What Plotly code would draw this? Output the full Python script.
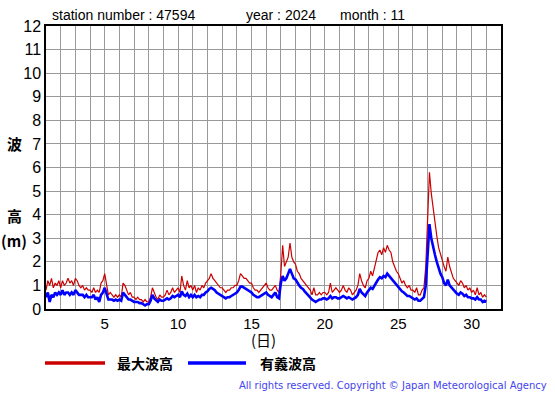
import plotly.graph_objects as go

# ---- data (3-hourly readings, November 2024, station 47594) ----
hours = [0, 3, 6, 9, 12, 15, 18, 21]
days = list(range(1, 31))
end_day = 31

max_wave = [
    0.8, 1.2, 1.0, 1.3, 0.9, 1.1, 1.0, 1.2,   # 1
    0.9, 1.2, 1.0, 1.1, 1.3, 1.1, 1.2, 1.0,   # 2
    1.3, 1.2, 1.0, 0.9, 1.0, 0.8, 0.9, 0.8,   # 3
    0.8, 0.7, 0.9, 0.7, 0.8, 0.7, 1.1, 1.2,   # 4
    1.5, 1.0, 0.6, 0.7, 0.6, 0.5, 0.6, 0.5,   # 5
    0.6, 0.5, 1.1, 1.0, 0.8, 0.6, 0.7, 0.5,   # 6
    0.5, 0.4, 0.5, 0.4, 0.4, 0.3, 0.4, 0.3,   # 7
    0.3, 0.5, 0.9, 0.7, 0.5, 0.4, 0.6, 0.5,   # 8
    0.5, 0.6, 0.8, 0.6, 0.7, 0.9, 0.7, 0.8,   # 9
    0.9, 0.7, 1.4, 1.0, 0.8, 1.2, 0.9, 1.0,   # 10
    0.8, 1.0, 0.7, 0.9, 0.8, 1.0, 0.9, 1.1,   # 11
    1.2, 1.3, 1.5, 1.3, 1.2, 1.1, 1.0, 0.9,   # 12
    0.9, 0.8, 0.7, 0.8, 0.8, 0.9, 0.9, 1.0,   # 13
    1.0, 1.2, 1.5, 1.4, 1.3, 1.3, 1.2, 1.1,   # 14
    1.1, 0.9, 0.8, 0.8, 0.7, 0.8, 0.9, 1.0,   # 15
    1.1, 0.9, 0.8, 0.8, 0.9, 1.0, 0.8, 0.7,   # 16
    1.5, 2.7, 1.8, 2.0, 2.2, 2.8, 2.2, 2.0,   # 17
    1.9, 1.6, 1.5, 1.3, 1.2, 1.1, 1.0, 0.9,   # 18
    0.8, 0.6, 0.9, 0.6, 0.6, 0.7, 0.6, 0.7,   # 19
    0.7, 0.6, 0.7, 1.1, 0.7, 0.8, 0.9, 0.8,   # 20
    0.7, 0.8, 1.0, 0.8, 0.7, 0.9, 0.8, 0.6,   # 21
    0.7, 0.8, 1.0, 1.5, 1.2, 1.0, 0.9, 1.2,   # 22
    1.3, 1.6, 1.4, 1.7, 2.0, 2.4, 2.5, 2.3,   # 23
    2.6, 2.4, 2.7, 2.5, 2.4, 2.0, 1.8, 1.6,   # 24
    1.5, 1.3, 1.1, 1.2, 1.0, 0.9, 1.0, 0.8,   # 25
    0.8, 0.7, 0.9, 0.6, 0.6, 0.8, 0.9, 1.8,   # 26
    3.5, 5.8, 4.9, 4.3, 3.5, 3.1, 2.6, 2.3,   # 27
    2.1, 1.8, 1.6, 2.2, 1.8, 1.5, 1.3, 1.2,   # 28
    1.1, 1.0, 1.2, 1.1, 0.9, 1.0, 0.8, 0.9,   # 29
    0.7, 0.8, 0.6, 0.9, 0.6, 0.7, 0.5, 0.6,   # 30
    0.5,                                      # end
]

sig_wave = [
    0.5, 0.7, 0.3, 0.6, 0.5, 0.7, 0.6, 0.7,   # 1
    0.6, 0.8, 0.6, 0.7, 0.7, 0.6, 0.7, 0.6,   # 2
    0.8, 0.7, 0.6, 0.6, 0.6, 0.5, 0.6, 0.5,   # 3
    0.5, 0.5, 0.6, 0.4, 0.5, 0.3, 0.6, 0.7,   # 4
    0.9, 0.6, 0.4, 0.4, 0.4, 0.35, 0.4, 0.35, # 5
    0.4, 0.35, 0.7, 0.6, 0.5, 0.4, 0.4, 0.35, # 6
    0.3, 0.3, 0.3, 0.25, 0.25, 0.2, 0.15, 0.2,  # 7
    0.2, 0.35, 0.6, 0.45, 0.35, 0.3, 0.4, 0.35, # 8
    0.35, 0.4, 0.45, 0.4, 0.45, 0.55, 0.5, 0.55, # 9
    0.6, 0.5, 0.75, 0.6, 0.55, 0.65, 0.5, 0.6,   # 10
    0.5, 0.6, 0.5, 0.55, 0.5, 0.6, 0.6, 0.7,     # 11
    0.75, 0.85, 0.9, 0.85, 0.8, 0.7, 0.65, 0.6,  # 12
    0.55, 0.5, 0.45, 0.5, 0.5, 0.55, 0.6, 0.65,  # 13
    0.7, 0.8, 0.95, 0.95, 0.9, 0.85, 0.8, 0.75,  # 14
    0.7, 0.6, 0.55, 0.5, 0.5, 0.55, 0.6, 0.65,   # 15
    0.7, 0.6, 0.55, 0.5, 0.6, 0.7, 0.5, 0.45,    # 16
    1.1, 1.4, 1.2, 1.3, 1.5, 1.7, 1.5, 1.3,      # 17
    1.25, 1.1, 1.0, 0.9, 0.85, 0.75, 0.65, 0.6,  # 18
    0.5, 0.4, 0.35, 0.3, 0.35, 0.4, 0.4, 0.45,   # 19
    0.45, 0.4, 0.45, 0.55, 0.45, 0.5, 0.5, 0.45, # 20
    0.45, 0.5, 0.55, 0.5, 0.45, 0.5, 0.45, 0.4,  # 21
    0.45, 0.5, 0.6, 0.85, 0.7, 0.6, 0.55, 0.7,   # 22
    0.8, 0.9, 0.85, 1.0, 1.1, 1.25, 1.35, 1.3,   # 23
    1.4, 1.35, 1.5, 1.4, 1.35, 1.2, 1.1, 1.0,    # 24
    0.95, 0.85, 0.75, 0.7, 0.6, 0.55, 0.55, 0.5, # 25
    0.45, 0.4, 0.45, 0.35, 0.35, 0.45, 0.5, 1.0, # 26
    2.2, 3.6, 3.0, 2.6, 2.3, 2.0, 1.7, 1.5,      # 27
    1.35, 1.1, 1.0, 1.25, 1.0, 0.9, 0.8, 0.7,    # 28
    0.65, 0.6, 0.7, 0.65, 0.55, 0.6, 0.5, 0.5,   # 29
    0.45, 0.45, 0.4, 0.5, 0.4, 0.4, 0.3, 0.35,   # 30
    0.3,                                         # end
]

x_tick_labels = ["5", "10", "15", "20", "25", "30"]
y_tick_labels = [str(v) for v in range(0, 13)]

# time axis (fractional day) built from day/hour lists
t = [d + h / 24 for d in days for h in hours] + [end_day]

# ---- figure ----
W, H = 555, 395
L, R, T, B = 46, 501, 26, 309


def px(x):
    return (x - L) / (R - L)


def py(y):
    return (B - y) / (B - T)


fig = go.Figure()
fig.add_trace(go.Scatter(x=t, y=max_wave, mode="lines",
                         line=dict(color="#cc0000", width=1.2), showlegend=False))
fig.add_trace(go.Scatter(x=t, y=sig_wave, mode="lines",
                         line=dict(color="#0000ff", width=2.6), showlegend=False))

xt_vals = list(range(1, 33))
xt_text = [str(v) if str(v) in x_tick_labels else "" for v in xt_vals]

fig.update_layout(
    template="none",
    width=W, height=H,
    margin=dict(l=L, r=W - R, t=T, b=H - B, pad=0),
    paper_bgcolor="white", plot_bgcolor="white",
    font=dict(family="Liberation Sans, Arial, sans-serif", color="black"),
    xaxis=dict(range=[1, 32], tickvals=xt_vals, ticktext=xt_text, automargin=False,
               showgrid=True, gridcolor="#9a9a9a", gridwidth=1,
               showline=True, linecolor="black", linewidth=1.5, mirror=True,
               ticks="", tickfont=dict(size=15), zeroline=False, fixedrange=True),
    yaxis=dict(range=[0, 12], tickvals=list(range(0, 13)), ticktext=y_tick_labels,
               automargin=False,
               showgrid=True, gridcolor="#9a9a9a", gridwidth=1,
               showline=True, linecolor="black", linewidth=1.5, mirror=True,
               ticks="", tickfont=dict(size=16), zeroline=False, fixedrange=True),
)

ann = []
title_font = dict(family="Liberation Sans, Arial, sans-serif", size=14, color="black")
for txt, xx in [("station number : 47594", 50), ("year : 2024", 244), ("month : 11", 338)]:
    ann.append(dict(text=txt, x=px(xx), y=py(15), xref="paper", yref="paper",
                    xanchor="left", yanchor="middle", showarrow=False, font=title_font))

cjk = "Noto Sans CJK JP, sans-serif"
for txt, xx, yy in [("波", 14, 143), ("高", 14, 215), ("(m)", 14, 240)]:
    ann.append(dict(text="<b>" + txt + "</b>", x=px(xx), y=py(yy), xref="paper", yref="paper",
                    xanchor="center", yanchor="middle", showarrow=False,
                    font=dict(family=cjk, size=15, color="black")))

ann.append(dict(text="(日)", x=px(263), y=py(340), xref="paper", yref="paper",
                xanchor="center", yanchor="middle", showarrow=False,
                font=dict(family=cjk, size=15, color="black")))

legend_items = [("最大波高", "#cc0000", 45, 105, 115), ("有義波高", "#0000ff", 188, 246, 258)]
for txt, col, x0, x1, xt in legend_items:
    fig.add_shape(type="line", xref="paper", yref="paper",
                  x0=px(x0), x1=px(x1), y0=py(363), y1=py(363),
                  line=dict(color=col, width=3.5))
    ann.append(dict(text="<b>" + txt + "</b>", x=px(xt), y=py(363), xref="paper", yref="paper",
                    xanchor="left", yanchor="middle", showarrow=False,
                    font=dict(family=cjk, size=14, color="black")))

ann.append(dict(text="All rights reserved. Copyright © Japan Meteorological Agency",
                x=px(549), y=py(385), xref="paper", yref="paper",
                xanchor="right", yanchor="middle", showarrow=False,
                font=dict(family="DejaVu Sans, sans-serif", size=10, color="#4444ee")))

fig.update_layout(annotations=ann)
fig.write_html("out.html", config={"displayModeBar": False},
               post_script="document.body.style.margin='0';document.body.style.padding='0';")
